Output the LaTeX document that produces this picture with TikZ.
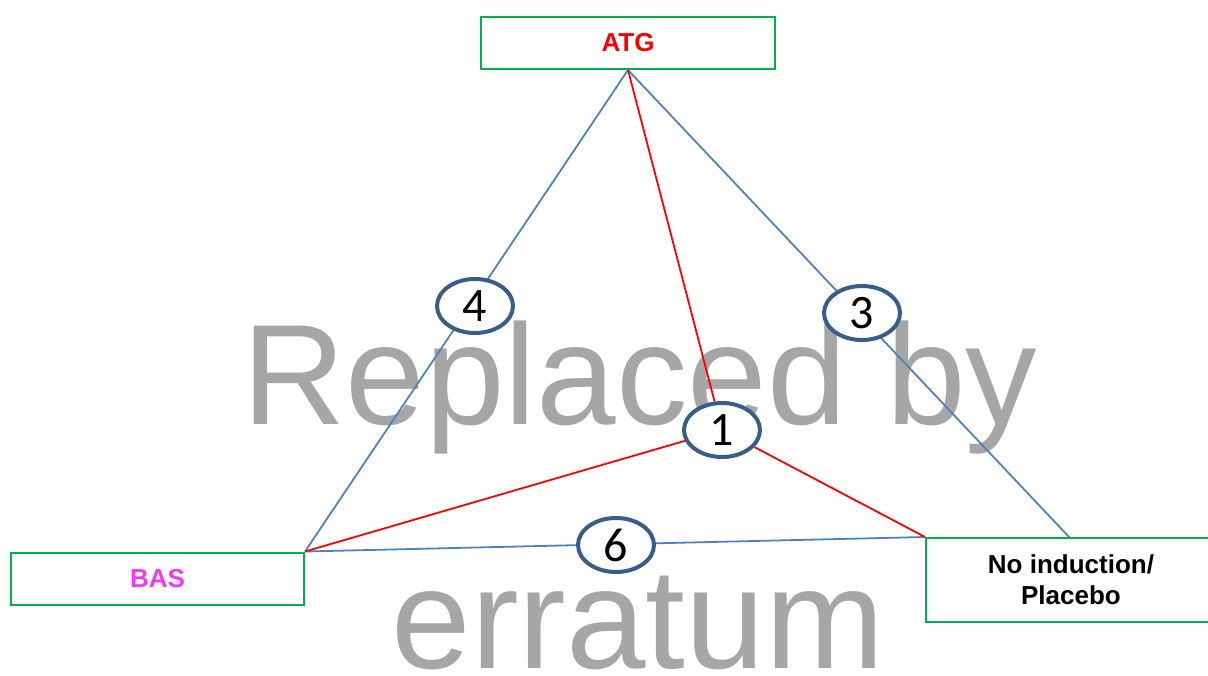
\documentclass[tikz,border=0pt]{standalone}
\usepackage{fontspec}
\setmainfont{Liberation Sans}
\newfontfamily\numfont{Carlito}
\usetikzlibrary{shapes.geometric}
\definecolor{boxgreen}{RGB}{0,176,80}
\definecolor{linkblue}{RGB}{79,129,189}
\definecolor{ringblue}{RGB}{56,93,138}
\definecolor{wmgray}{RGB}{166,166,166}
\definecolor{labmagenta}{RGB}{240,60,240}
\pgfdeclarelayer{wmlayer}
\pgfdeclarelayer{linklayer}
\pgfsetlayers{wmlayer,linklayer,main}
\tikzset{
  armbox/.style={draw=boxgreen, line width=2pt, fill=white, inner sep=0pt,
    font=\bfseries\fontsize{26}{31}\selectfont, align=center},
  ring/.style={ellipse, draw=ringblue, line width=4pt, fill=white, inner sep=0pt,
    minimum width=76pt, minimum height=54pt, font=\numfont\fontsize{48}{48}\selectfont},
  bluelink/.style={draw=linkblue, line width=1.8pt},
  redlink/.style={draw=red, line width=1.8pt},
  watermark/.style={text=wmgray, inner sep=0pt, font=\fontsize{143}{143}\selectfont}
}
\begin{document}
\begin{tikzpicture}[x=1pt,y=-1pt]
\useasboundingbox (0,0) rectangle (1208,675);
\clip (0,0) rectangle (1208,675);
% boxes
\node[armbox, minimum width=294pt, minimum height=52pt, text=red] (ATG) at (628,43) {ATG};
\node[armbox, minimum width=293pt, minimum height=52pt, text=labmagenta] (BAS) at (157.5,578.5) {BAS};
\node[armbox, minimum width=290pt, minimum height=84pt, text=black] (NI) at (1071,580) {No induction/\\Placebo};
\coordinate (NItop) at (1070,538);
% rings
\node[ring] (e4) at (475,306) {4};
\node[ring] (e3) at (862,313) {3};
\node[ring] (e1) at (722,430) {1};
\node[ring] (e6) at (616,545) {6};
% connectors
\begin{pgfonlayer}{linklayer}
\draw[bluelink] (ATG.south) -- (BAS.north east);
\draw[bluelink] (ATG.south) -- (NItop);
\draw[bluelink] (BAS.north east) -- (NI.north west);
\draw[redlink] (ATG.south) -- (e1);
\draw[redlink] (e1) -- (BAS.north east);
\draw[redlink] (e1) -- (NI.north west);
\end{pgfonlayer}
% watermark
\begin{pgfonlayer}{wmlayer}
\node[watermark, anchor=base] (wm1) at (640,424) {Replaced by};
\node[watermark, anchor=base] (wm2) at (638,668) {erratum};
\end{pgfonlayer}
\end{tikzpicture}
\end{document}
